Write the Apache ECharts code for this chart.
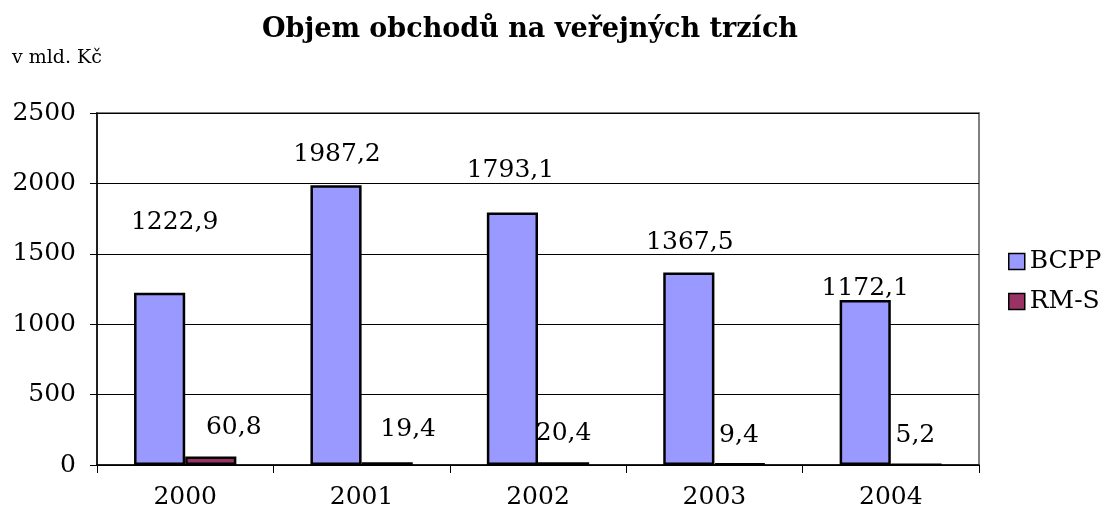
<!DOCTYPE html>
<html>
<head>
<meta charset="utf-8">
<script src="https://cdn.jsdelivr.net/npm/echarts@6/dist/echarts.min.js"></script>
<style>
html,body{margin:0;padding:0;background:#fff;}
#chart{width:1105px;height:516px;}
</style>
</head>
<body>
<div id="chart"></div>
<script>
const categories = ['2000', '2001', '2002', '2003', '2004'];
const seriesNames = ['BCPP', 'RM-S'];
const bcppValues = [1222.9, 1987.2, 1793.1, 1367.5, 1172.1];
const rmsValues = [60.8, 19.4, 20.4, 9.4, 5.2];
const yAxisMin = 0;
const yAxisMax = 2500;
const yAxisInterval = 500;
const titleText = 'Objem obchodů na veřejných trzích';
const unitText = 'v mld. Kč';

// label displacement (style only, mimicking hand-placed labels)
const bcppLabelOffsets = [[15, -53], [1, -13], [-2, -25], [1, -12], [0, 6]];
const rmsLabelOffsets = [[23, -11], [21, -15], [0, -11], [-1, -10], [-1, -10]];

const FONT = 'DejaVu Serif';
const fmt = v => v.toFixed(1).replace('.', ',');

function buildData(values, offsets) {
  return values.map((v, i) => ({ value: v, label: { offset: offsets[i] } }));
}

const chart = echarts.init(document.getElementById('chart'), null, { renderer: 'canvas' });
chart.setOption({
  backgroundColor: '#ffffff',
  animation: false,
  textStyle: { fontFamily: FONT },
  graphic: [
    {
      type: 'text', x: 530, y: 16,
      style: { text: titleText, font: 'bold 27px "DejaVu Serif"', fill: '#000', textAlign: 'center', textVerticalAlign: 'top' }
    },
    {
      type: 'text', x: 12, y: 49,
      style: { text: unitText, font: '19px "DejaVu Serif"', fill: '#000', textAlign: 'left', textVerticalAlign: 'top' }
    }
  ],
  legend: {
    orient: 'vertical',
    left: 1008,
    top: 249,
    padding: 0,
    itemWidth: 16,
    itemHeight: 16,
    itemGap: 15,
    icon: 'rect',
    data: seriesNames,
    textStyle: { fontFamily: FONT, fontSize: 25, color: '#000' },
    itemStyle: { borderColor: '#000', borderWidth: 1.5 }
  },
  grid: {
    left: 97, right: 126, top: 113, bottom: 51,
    show: true, borderColor: '#808080', borderWidth: 2, backgroundColor: '#fff'
  },
  xAxis: {
    type: 'category',
    data: categories,
    axisLine: { show: true, lineStyle: { color: '#000', width: 1.5 } },
    axisTick: { show: true, length: 8, lineStyle: { color: '#000', width: 1 } },
    axisLabel: { margin: 20, fontFamily: FONT, fontSize: 25, color: '#000' },
    splitLine: { show: false }
  },
  yAxis: {
    type: 'value',
    min: yAxisMin,
    max: yAxisMax,
    interval: yAxisInterval,
    axisLine: { show: true, lineStyle: { color: '#000', width: 1.5 } },
    axisTick: { show: true, length: 7, lineStyle: { color: '#000', width: 1 } },
    axisLabel: { margin: 21, fontFamily: FONT, fontSize: 25, color: '#000', formatter: v => String(v) },
    splitLine: { show: true, lineStyle: { color: '#000', width: 1 } }
  },
  series: [
    {
      name: seriesNames[0],
      type: 'bar',
      data: buildData(bcppValues, bcppLabelOffsets),
      barGap: '0%',
      barCategoryGap: '42%',
      itemStyle: { color: '#9999FF', borderColor: '#000', borderWidth: 2.5 },
      label: { show: true, position: 'top', distance: 5, fontFamily: FONT, fontSize: 25, color: '#000', formatter: p => fmt(p.value) }
    },
    {
      name: seriesNames[1],
      type: 'bar',
      data: buildData(rmsValues, rmsLabelOffsets),
      barGap: '0%',
      barCategoryGap: '42%',
      itemStyle: { color: '#993366', borderColor: '#000', borderWidth: 2.5 },
      label: { show: true, position: 'top', distance: 5, fontFamily: FONT, fontSize: 25, color: '#000', formatter: p => fmt(p.value) }
    }
  ]
});
</script>
</body>
</html>
